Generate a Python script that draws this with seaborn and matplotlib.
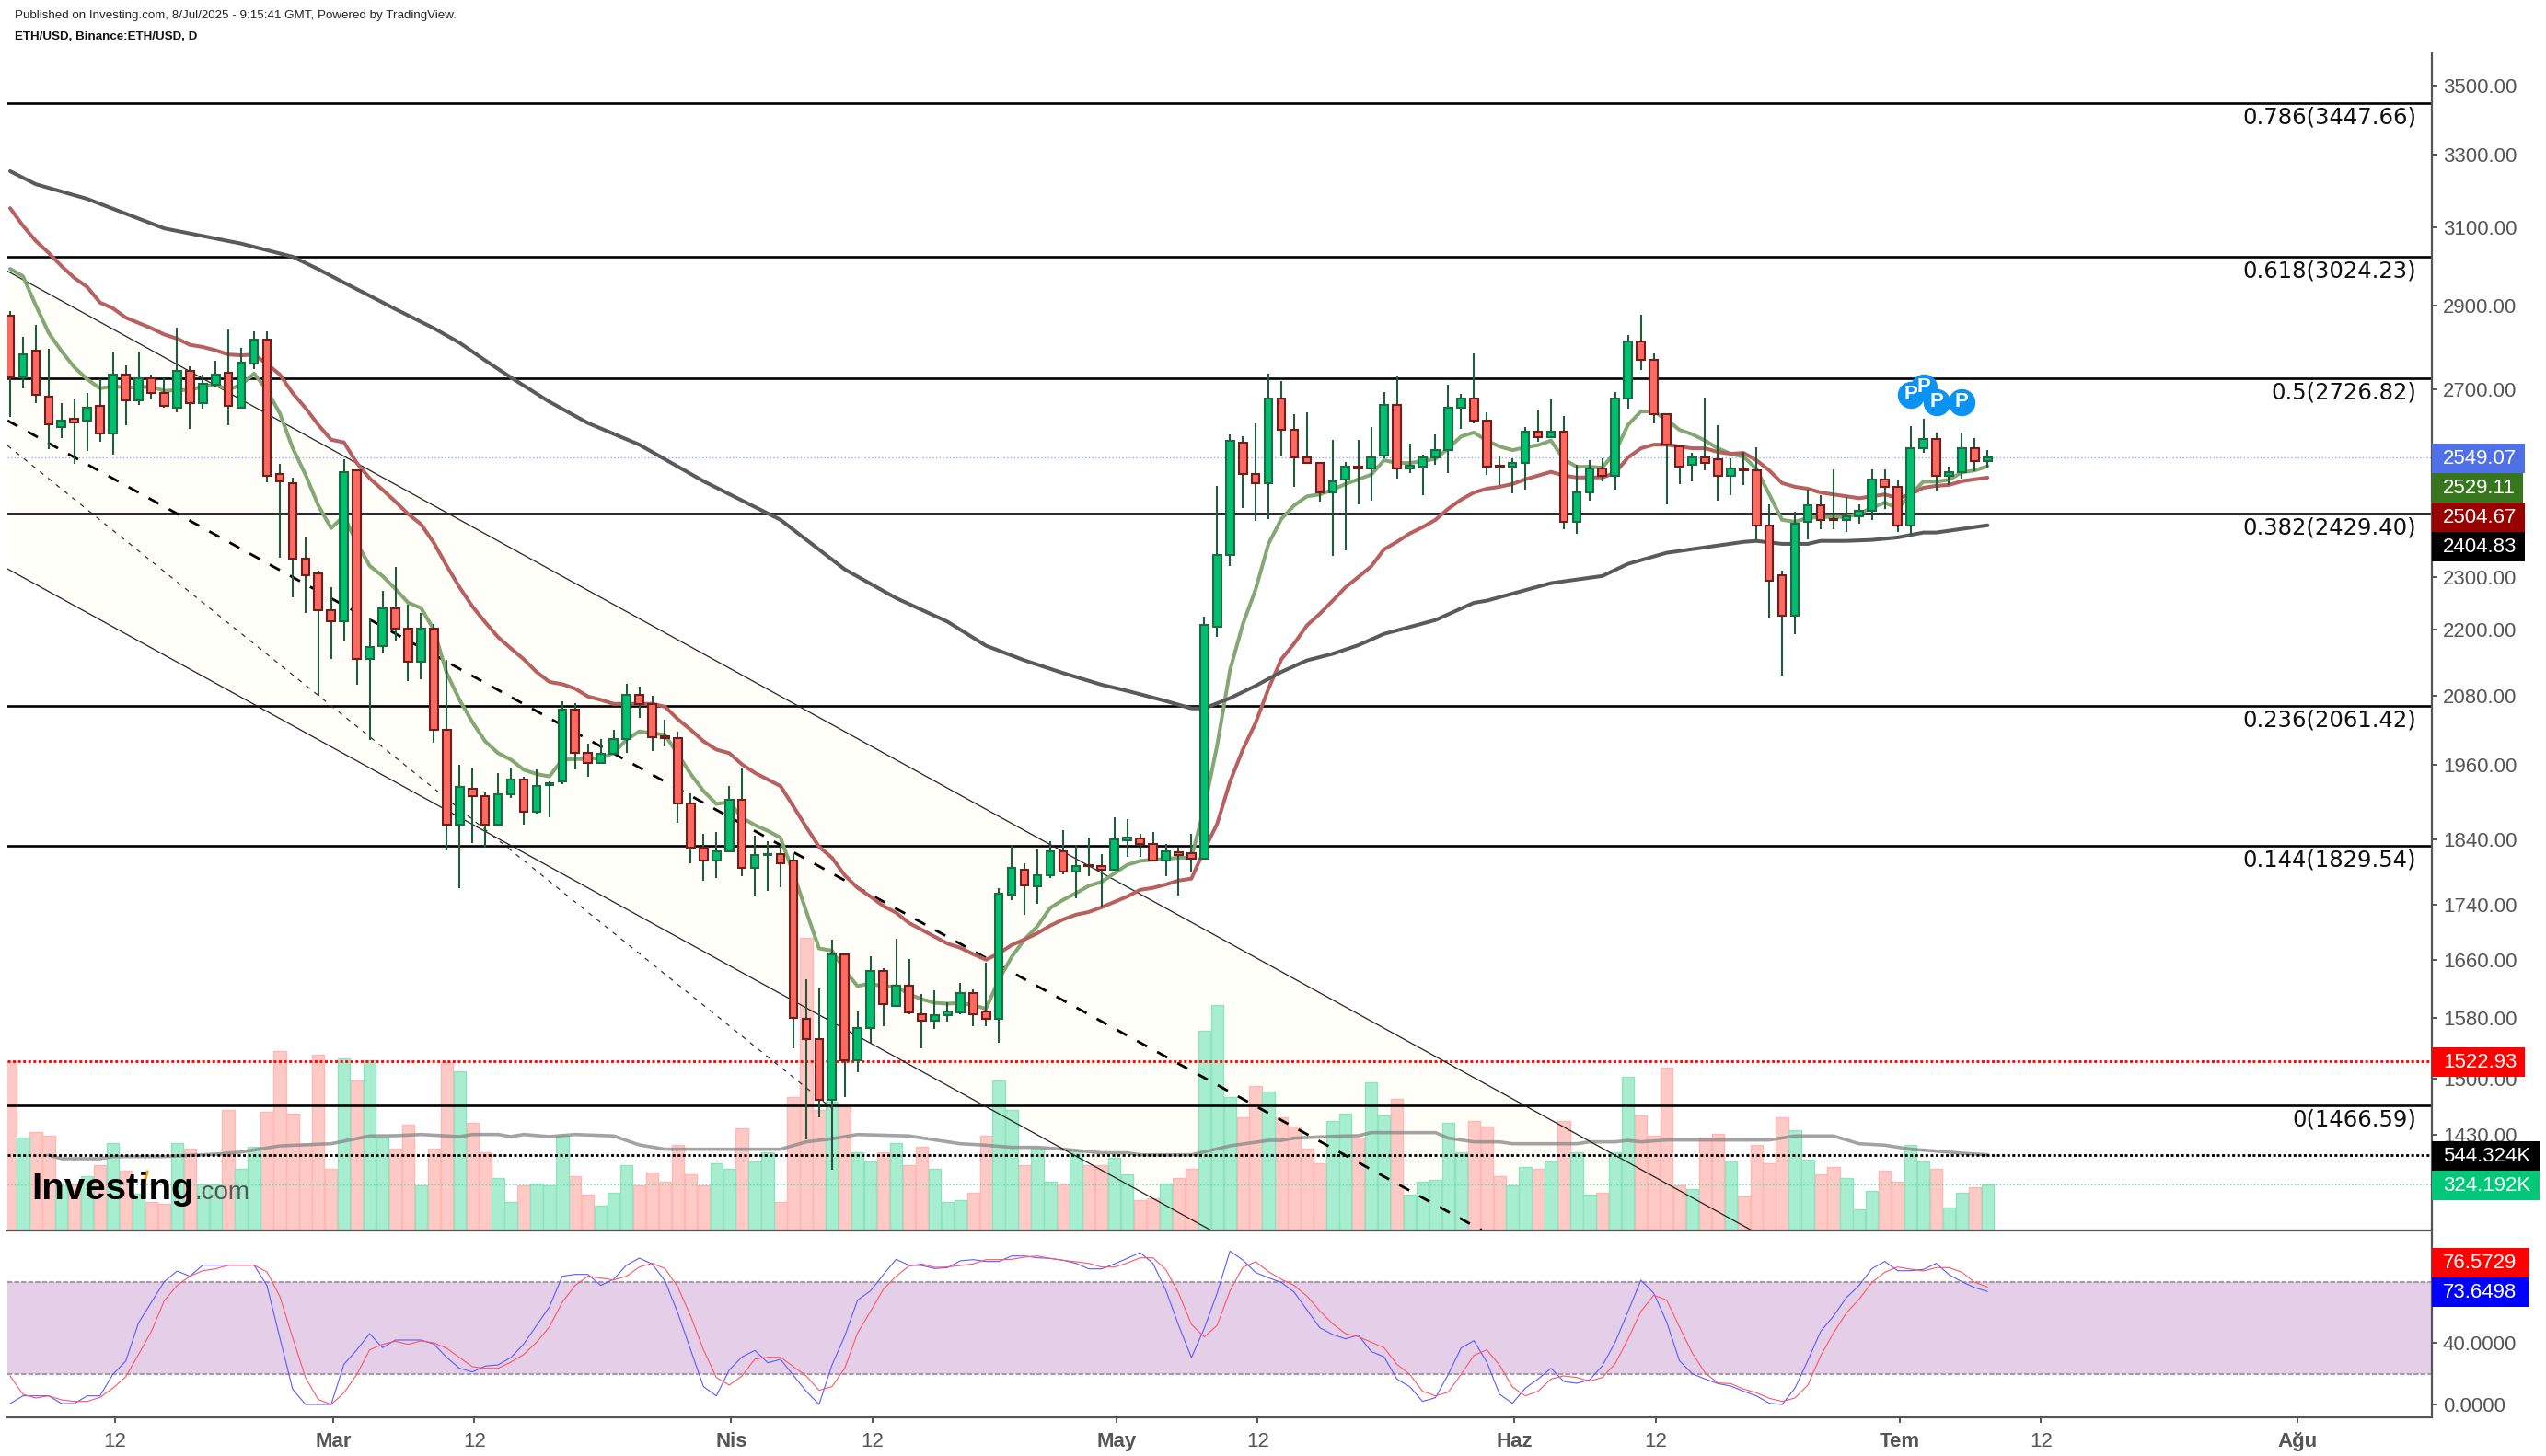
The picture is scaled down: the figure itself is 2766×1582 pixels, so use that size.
import matplotlib
matplotlib.use("Agg")
import matplotlib.pyplot as plt
import numpy as np
import pandas as pd
import seaborn as sns
from matplotlib.lines import Line2D
from matplotlib.patches import Rectangle

# candles, Feb 4 - Jul 8 2025, one row per ten bars
open_price = [
    2876, 2729, 2792, 2683, 2616, 2634, 2629, 2663, 2601, 2735,
    2675, 2726, 2692, 2658, 2744, 2670, 2712, 2740, 2658, 2760,
    2818, 2512, 2493, 2338, 2308, 2237, 2215, 2521, 2146, 2170,
    2241, 2202, 2140, 2202, 2019, 1863, 1921, 1908, 1863, 1911,
    1936, 1884, 1927, 1933, 2055, 1981, 1963, 1979, 2004, 2081,
    2065, 2008, 2005, 1897, 1827, 1806, 1821, 1903, 1795, 1815,
    1816, 1807, 1578, 1551, 1473, 1668, 1523, 1566, 1644, 1596,
    1624, 1585, 1576, 1583, 1587, 1614, 1588, 1578, 1755, 1792,
    1767, 1784, 1821, 1789, 1799, 1798, 1792, 1838, 1841, 1832,
    1806, 1819, 1818, 1809, 2205, 2344, 2581, 2513, 2492, 2680,
    2609, 2548, 2536, 2473, 2501, 2529, 2525, 2552, 2664, 2524,
    2529, 2549, 2565, 2659, 2680, 2630, 2530, 2528, 2537, 2605,
    2592, 2605, 2411, 2474, 2525, 2509, 2680, 2814, 2770, 2643,
    2573, 2532, 2549, 2545, 2509, 2525, 2521, 2405, 2305, 2226,
    2412, 2447, 2417, 2416, 2423, 2435, 2501, 2485, 2404, 2568,
    2589, 2508, 2516, 2569, 2540]
high_price = [
    2886, 2824, 2854, 2796, 2669, 2680, 2693, 2724, 2789, 2757,
    2789, 2735, 2726, 2847, 2754, 2735, 2767, 2842, 2798, 2838,
    2838, 2534, 2505, 2379, 2313, 2281, 2545, 2521, 2221, 2274,
    2321, 2248, 2231, 2210, 2144, 1961, 1956, 1915, 1946, 1956,
    1940, 1952, 1933, 2069, 2066, 1996, 2004, 2020, 2101, 2095,
    2079, 2038, 2016, 1913, 1848, 1851, 1925, 1955, 1846, 1837,
    1829, 1816, 1632, 1620, 1688, 1668, 1588, 1665, 1648, 1690,
    1661, 1612, 1617, 1601, 1628, 1619, 1656, 1765, 1830, 1802,
    1825, 1836, 1854, 1829, 1842, 1816, 1874, 1871, 1848, 1851,
    1833, 1826, 1848, 2225, 2487, 2598, 2594, 2624, 2737, 2720,
    2644, 2648, 2536, 2586, 2539, 2586, 2615, 2694, 2733, 2578,
    2554, 2598, 2711, 2690, 2784, 2648, 2551, 2546, 2615, 2652,
    2677, 2639, 2532, 2542, 2546, 2694, 2828, 2877, 2784, 2643,
    2573, 2558, 2681, 2620, 2546, 2561, 2570, 2448, 2314, 2432,
    2479, 2467, 2522, 2464, 2448, 2522, 2522, 2501, 2618, 2634,
    2603, 2529, 2603, 2590, 2565]
low_price = [
    2637, 2703, 2669, 2566, 2590, 2535, 2563, 2583, 2555, 2619,
    2665, 2678, 2658, 2649, 2611, 2657, 2706, 2619, 2658, 2747,
    2495, 2340, 2261, 2232, 2080, 2145, 2179, 2099, 2002, 2155,
    2180, 2106, 2109, 1997, 1823, 1765, 1834, 1826, 1863, 1905,
    1863, 1880, 1875, 1929, 1953, 1941, 1963, 1979, 1981, 2041,
    1984, 1991, 1866, 1803, 1775, 1780, 1821, 1783, 1752, 1760,
    1766, 1539, 1424, 1451, 1388, 1477, 1508, 1547, 1568, 1596,
    1585, 1539, 1565, 1575, 1585, 1568, 1568, 1546, 1746, 1725,
    1741, 1780, 1785, 1749, 1783, 1736, 1791, 1813, 1813, 1805,
    1783, 1754, 1788, 1809, 2186, 2322, 2440, 2414, 2418, 2551,
    2484, 2536, 2453, 2343, 2354, 2448, 2456, 2547, 2503, 2515,
    2468, 2532, 2515, 2611, 2624, 2511, 2488, 2472, 2480, 2582,
    2590, 2396, 2388, 2456, 2496, 2480, 2657, 2746, 2624, 2448,
    2491, 2496, 2520, 2456, 2468, 2488, 2377, 2222, 2115, 2191,
    2377, 2396, 2396, 2392, 2408, 2415, 2438, 2392, 2385, 2559,
    2475, 2488, 2503, 2519, 2527]
close_price = [
    2729, 2783, 2687, 2621, 2630, 2625, 2658, 2600, 2735, 2675,
    2726, 2692, 2662, 2744, 2670, 2713, 2735, 2663, 2762, 2818,
    2508, 2497, 2337, 2304, 2236, 2215, 2516, 2146, 2167, 2241,
    2202, 2140, 2202, 2019, 1863, 1924, 1908, 1863, 1911, 1936,
    1884, 1926, 1930, 2055, 1981, 1963, 1979, 2004, 2081, 2064,
    2007, 2005, 1897, 1827, 1806, 1821, 1903, 1795, 1815, 1816,
    1803, 1580, 1551, 1473, 1668, 1523, 1566, 1644, 1598, 1624,
    1587, 1576, 1583, 1588, 1614, 1585, 1578, 1756, 1795, 1769,
    1784, 1821, 1789, 1798, 1798, 1792, 1839, 1842, 1832, 1806,
    1821, 1815, 1809, 2209, 2344, 2585, 2513, 2492, 2680, 2609,
    2548, 2536, 2473, 2497, 2529, 2524, 2549, 2664, 2524, 2530,
    2549, 2565, 2659, 2680, 2630, 2529, 2528, 2536, 2605, 2592,
    2605, 2411, 2474, 2525, 2509, 2680, 2814, 2770, 2643, 2576,
    2528, 2549, 2536, 2509, 2525, 2520, 2404, 2294, 2226, 2409,
    2447, 2416, 2415, 2423, 2435, 2501, 2484, 2404, 2569, 2589,
    2508, 2517, 2569, 2540, 2549.07]

ema_fast = [
    2993, 2974, 2901, 2834, 2790, 2752, 2724, 2703, 2707, 2705,
    2705, 2707, 2697, 2699, 2699, 2707, 2712, 2699, 2712, 2737,
    2699, 2646, 2569, 2511, 2446, 2399, 2424, 2369, 2323, 2303,
    2278, 2251, 2241, 2200, 2120, 2072, 2033, 2000, 1980, 1969,
    1952, 1945, 1941, 1969, 1970, 1970, 1972, 1980, 2003, 2017,
    2014, 2011, 1978, 1945, 1917, 1896, 1899, 1874, 1862, 1853,
    1842, 1787, 1730, 1676, 1673, 1645, 1623, 1627, 1622, 1623,
    1612, 1605, 1600, 1599, 1600, 1597, 1592, 1632, 1664, 1689,
    1708, 1735, 1747, 1757, 1768, 1774, 1787, 1800, 1806, 1808,
    1809, 1811, 1811, 1890, 1993, 2125, 2210, 2277, 2367, 2418,
    2446, 2465, 2469, 2479, 2491, 2501, 2511, 2542, 2536, 2536,
    2540, 2545, 2568, 2594, 2603, 2585, 2572, 2564, 2570, 2575,
    2585, 2544, 2528, 2528, 2526, 2560, 2620, 2650, 2650, 2632,
    2609, 2599, 2585, 2568, 2556, 2550, 2523, 2469, 2416, 2412,
    2420, 2422, 2422, 2422, 2429, 2441, 2452, 2439, 2469, 2496,
    2496, 2500, 2516, 2520, 2529.11]
ema_mid = [
    3152, 3105, 3065, 3034, 3000, 2970, 2947, 2908, 2894, 2871,
    2858, 2845, 2830, 2820, 2805, 2800, 2792, 2782, 2780, 2782,
    2760, 2735, 2692, 2658, 2620, 2587, 2581, 2536, 2503, 2479,
    2454, 2428, 2407, 2369, 2323, 2281, 2244, 2214, 2186, 2165,
    2145, 2122, 2104, 2100, 2092, 2078, 2072, 2065, 2065, 2065,
    2065, 2060, 2038, 2020, 2000, 1986, 1980, 1961, 1947, 1936,
    1925, 1892, 1859, 1828, 1811, 1784, 1765, 1752, 1738, 1728,
    1713, 1703, 1693, 1683, 1677, 1668, 1660, 1669, 1681, 1689,
    1698, 1709, 1718, 1725, 1729, 1736, 1744, 1752, 1762, 1765,
    1770, 1776, 1779, 1823, 1864, 1932, 1986, 2032, 2092, 2145,
    2174, 2208, 2230, 2255, 2281, 2301, 2322, 2356, 2371, 2388,
    2401, 2416, 2439, 2458, 2473, 2481, 2485, 2491, 2501, 2509,
    2517, 2509, 2505, 2505, 2505, 2515, 2548, 2568, 2576, 2576,
    2572, 2568, 2568, 2560, 2556, 2558, 2542, 2520, 2493, 2485,
    2481, 2473, 2469, 2465, 2461, 2465, 2469, 2461, 2469, 2483,
    2487, 2489, 2497, 2501, 2504.67]

# slow average, read at its bends only
ema_slow_idx = [0, 2, 6, 12, 18, 22, 24, 26, 28, 30, 33, 35, 37, 39, 42, 45, 49, 54, 60, 65,
                69, 73, 76, 79, 82, 85, 87, 90, 92, 93, 95, 97, 99, 101, 103, 105, 107, 111,
                114, 115, 120, 124, 126, 129, 135, 136, 138, 140, 141, 143, 145, 147, 149,
                150, 154]
ema_slow = [3253, 3217, 3177, 3098, 3058, 3024, 2992, 2958, 2925, 2892, 2845, 2810, 2768, 2728,
            2672, 2624, 2576, 2497, 2416, 2316, 2260, 2215, 2170, 2143, 2120, 2099, 2088, 2070,
            2057, 2057, 2075, 2097, 2122, 2143, 2155, 2171, 2192, 2218, 2251, 2255, 2289, 2303,
            2327, 2349, 2371, 2373, 2367, 2367, 2373, 2373, 2375, 2380, 2390, 2390, 2404.83]

volume_k = [
    1242, 673, 714, 687, 313, 324, 382, 467, 632, 425,
    256, 191, 178, 632, 590, 324, 324, 880, 439, 604,
    866, 1320, 852, 627, 1292, 439, 1265, 1100, 1251, 673,
    590, 769, 315, 590, 1237, 1169, 783, 563, 370, 191,
    315, 329, 315, 687, 384, 246, 164, 260, 467, 315,
    412, 343, 618, 398, 315, 480, 439, 742, 494, 563,
    191, 976, 2169, 880, 944, 907, 563, 494, 563, 632,
    467, 604, 439, 191, 205, 260, 687, 1100, 880, 467,
    590, 343, 329, 577, 467, 467, 522, 398, 205, 219,
    329, 370, 439, 1471, 1664, 976, 824, 1058, 1017, 824,
    756, 590, 480, 797, 852, 673, 1086, 838, 962, 246,
    343, 356, 783, 563, 797, 756, 384, 315, 453, 439,
    494, 797, 563, 246, 260, 563, 1127, 838, 687, 1196,
    315, 288, 673, 701, 494, 233, 618, 480, 824, 728,
    508, 398, 453, 370, 136, 274, 425, 343, 618, 494,
    439, 150, 260, 301, 324.192]
volume_ma_idx = [3, 4, 7, 8, 12, 16, 18, 21, 25, 28, 30, 32, 35, 36, 38, 39, 40, 42, 44, 47, 49,
                 51, 60, 62, 64, 66, 70, 74, 76, 78, 80, 82, 85, 87, 88, 92, 95, 98, 99, 100,
                 103, 105, 106, 111, 112, 114, 116, 117, 122, 123, 125, 126, 127, 129, 137,
                 139, 142, 144, 146, 148, 150, 152, 154]
volume_ma = [542, 515, 515, 531, 531, 549, 565, 611, 627, 685, 687, 696, 680, 696, 696, 680, 696,
             680, 696, 685, 618, 586, 586, 641, 664, 696, 685, 627, 616, 600, 600, 586, 559, 559,
             544, 544, 611, 652, 652, 669, 682, 687, 710, 710, 669, 641, 641, 627, 627, 641, 641,
             652, 641, 655, 655, 685, 685, 627, 616, 586, 572, 556, 544.324]

stoch_k = [
    0.6, 5.6, 5.6, 5.6, 0.6, 0.6, 5.6, 5.6, 19.6, 28.2,
    53.2, 66.6, 80, 87, 83.6, 90.8, 90.8, 90.8, 90.8, 90.8,
    77.6, 43.6, 10, 0, 0, 0, 26.2, 35.6, 46.2, 37,
    42, 42, 42, 39.4, 30.6, 23.6, 21.2, 25, 25.8, 30.6,
    39.4, 51.6, 63.6, 83.6, 84.8, 84.8, 77.6, 81.6, 90.8, 95.4,
    91.6, 80.6, 59.6, 35.6, 11.6, 5.6, 22.4, 31, 35.2, 27.2,
    29.4, 19, 8.6, 0, 25.6, 44.6, 68, 74, 84.6, 94.6,
    90.8, 90.6, 88.6, 89.2, 93.6, 94.4, 93.2, 93.2, 96.8, 96.8,
    95.6, 95.2, 94, 92, 88.4, 88.4, 91.6, 95.2, 99, 92,
    74.6, 51.6, 30.6, 49.6, 72.6, 100, 94.2, 86, 82.6, 79.6,
    73.2, 61.6, 50, 45.6, 42.8, 45.2, 34.6, 31, 16.6, 11.6,
    2, 4.4, 19.6, 36.8, 41.6, 27.6, 6.6, 0.8, 10.6, 16.6,
    23.6, 15, 13.8, 16, 25.2, 40.6, 60.6, 81, 72.6, 54,
    28.6, 20, 16.6, 13.6, 12, 8.6, 5.6, 0.8, 0, 10.6,
    28.6, 47.6, 57.6, 69.6, 77.6, 88.6, 93.2, 87.2, 87.2, 88,
    92, 84.6, 80, 76.2, 73.6498]
stoch_d = [
    18.6, 6.6, 4.2, 5.6, 3, 2, 2, 4.6, 10.6, 18,
    32.6, 47.6, 67.6, 77.6, 83.6, 87.2, 88.4, 90.8, 90.8, 90.8,
    86.4, 70.6, 43.6, 17.6, 3.2, 0, 7.6, 19.6, 35.6, 39.2,
    41.2, 39.2, 41.4, 40.2, 36.6, 30.6, 24.6, 23.6, 23.6, 27.6,
    32.6, 40.6, 50.6, 66.6, 77.6, 83.6, 82.4, 81.2, 83.6, 89.6,
    92, 88.6, 76.6, 57.6, 35.6, 17.6, 12.6, 18.6, 29.6, 30.8,
    30.8, 24.6, 18.6, 9.2, 11.6, 23.6, 46.6, 60.6, 75, 83.6,
    90.2, 91.6, 89.4, 89.6, 90.6, 91.6, 94.4, 94.4, 94.6, 96,
    96.8, 95.2, 94, 93, 92, 89.6, 89.6, 92.2, 95.6, 95.6,
    88, 72.6, 52.2, 44, 51.6, 74, 89.4, 93, 86.6, 81.6,
    77.6, 70.6, 61, 52.6, 46.2, 44.2, 40.6, 37, 26.2, 19.6,
    8.6, 5.6, 8, 19.6, 32, 35.6, 25.6, 11.4, 5.6, 8.6,
    16.6, 18.6, 17.6, 15.2, 17.6, 26.6, 42.6, 60.6, 71.2, 68.2,
    50.6, 33.6, 20.6, 14, 13.6, 10, 7.6, 4, 2, 4.2,
    12.6, 31.6, 46.6, 59.6, 68.6, 79.6, 86.2, 89.6, 88.2, 87,
    89.2, 89.2, 86.2, 79.6, 76.5729]

fib_levels = [3447.66, 3024.23, 2726.82, 2429.40, 2061.42, 1829.54, 1466.59]
fib_names = ["0.786", "0.618", "0.5", "0.382", "0.236", "0.144", "0"]
price_ticks = [3500, 3300, 3100, 2900, 2700, 2300, 2200, 2080, 1960, 1840, 1740, 1660, 1580, 1500, 1430]
stoch_ticks = [0, 40]
date_ticks = [8, 25, 36, 56, 67, 86, 97, 117, 128, 147, 158, 178]
date_names = ["12", "Mar", "12", "Nis", "12", "May", "12", "Haz", "12", "Tem", "12", "Ağu"]
months = ["Mar", "Nis", "May", "Haz", "Tem", "Ağu"]
pivot_idx = [148, 149, 150, 152]
pivot_price = [2688, 2705, 2672, 2672]

# channel drawn on the chart, (bar, price) at both ends
channel_top = ([-0.2, 135.6], [2987, 1318])
channel_mid = ([-0.2, 114.6], [2629.5, 1318])
channel_low = ([-0.2, 93.5], [2317, 1318])
channel_thin = ([-0.2, 64.1], [2574, 1461])

W, H = 2766, 1582
LEFT, RIGHT = 8, 2642
TOP, PANE_BOTTOM, AXIS_BOTTOM = 58, 1337, 1540
GREY = "#555555"
LABEL_SIZE = 16

sns.set_style("white")
plt.rcParams["font.family"] = ["Liberation Sans", "DejaVu Sans"]

fig = plt.figure(figsize=(W / 100, H / 100), dpi=100)


def pane(top, bottom):
    return [LEFT / W, 1 - bottom / H, (RIGHT - LEFT) / W, (bottom - top) / H]


bars = np.arange(len(close_price))
opens, highs, lows, closes = map(np.array, (open_price, high_price, low_price, close_price))
up = closes >= opens

ax_vol = fig.add_axes(pane(TOP, PANE_BOTTOM))
ax_price = ax_vol.twinx()
ax_stoch = fig.add_axes(pane(PANE_BOTTOM, AXIS_BOTTOM))

# volume sits behind the candles on its own scale
vol_df = pd.DataFrame({"bar": bars, "vol": volume_k, "side": np.where(up, "up", "down")})
sns.barplot(data=vol_df, x="bar", y="vol", hue="side", palette={"up": "#a7edcf", "down": "#ffc9c5"},
            native_scale=True, dodge=False, width=0.96, saturation=1, legend=False, ax=ax_vol)
vol_floor = -22
for bar in ax_vol.patches:
    r, g, b, a = bar.get_facecolor()
    bar.set_edgecolor("#8fe3c0" if g > r else "#ffb8b3")
    bar.set_linewidth(1)
    bar.set_height(bar.get_height() - vol_floor)
    bar.set_y(vol_floor)
sns.lineplot(x=volume_ma_idx, y=volume_ma, color="#8c8c8c", linewidth=2.6, alpha=0.8, ax=ax_vol, zorder=3)
ax_vol.axhline(544.324, color="black", linestyle=(0, (1.1, 0.9)), linewidth=2, zorder=4)
ax_vol.axhline(324.192, color="#5fd8a8", linestyle=":", linewidth=1, zorder=4)
ax_vol.fill(channel_top[0] + channel_low[0][::-1], channel_top[1] + channel_low[1][::-1],
            color="#fffef8", transform=ax_price.transData, zorder=0, linewidth=0)

ax_price.set_yscale("log")
for level, name in zip(fib_levels, fib_names):
    ax_price.axhline(level, color="black", linewidth=1.9, zorder=1)
    ax_price.annotate(f"{name}({level:.2f})", xy=(187.4, level), xytext=(0, -16), textcoords="offset pixels",
                      ha="right", va="center", fontsize=17.5, family="DejaVu Sans", color="#111111")
ax_price.axhline(1522.93, color="#ff0000", linestyle=(0, (1.1, 0.9)), linewidth=2, zorder=1)
ax_price.axhline(2549.07, color="#9aaaf0", linestyle=":", linewidth=1, zorder=1)
for line in (channel_top, channel_low):
    ax_price.plot(*line, color="#222222", linewidth=0.9, zorder=2)
ax_price.plot(*channel_mid, color="black", linewidth=2, linestyle=(0, (4.5, 4.5)), zorder=2)
ax_price.plot(*channel_thin, color="#333333", linewidth=0.9, linestyle=(0, (4, 5)), zorder=2)

sns.lineplot(x=bars, y=ema_fast, color="#83a873", linewidth=2.9, ax=ax_price, zorder=3)
sns.lineplot(x=bars, y=ema_mid, color="#b85f5f", linewidth=2.9, ax=ax_price, zorder=3)
sns.lineplot(x=ema_slow_idx, y=ema_slow, color="#5a5a5a", linewidth=2.9, ax=ax_price, zorder=3)

ax_price.vlines(bars, lows, highs, color="#1f5b3c", linewidth=1.5, zorder=4)
ax_price.bar(bars, np.abs(closes - opens), bottom=np.minimum(opens, closes), width=0.62,
             color=np.where(up, "#00c070", "#ff6a60"), edgecolor=np.where(up, "#1c6b42", "#6f1d1d"),
             linewidth=1.5, zorder=5)

ax_price.scatter(pivot_idx, pivot_price, s=408, color="#0a93f5", edgecolor="#0a93f5", zorder=6)
for x, y in zip(pivot_idx, pivot_price):
    ax_price.text(x, y, "P", color="white", fontweight="bold", fontsize=16, ha="center", va="center", zorder=6)

ax_vol.set_ylim(vol_floor, 8780)
ax_price.set_ylim(1317.6, 3596.9)
ax_price.set_yticks(price_ticks)
ax_price.set_yticklabels([f"{t:.2f}" for t in price_ticks])
ax_price.minorticks_off()
ax_price.tick_params(axis="y", which="major", right=True, length=4.5, width=1.4, color=GREY,
                     labelcolor=GREY, labelsize=LABEL_SIZE, pad=4)

# stochastic pane
ax_stoch.axhspan(20, 80, color="#e5cfe8", linewidth=0, zorder=0)
for level in (20, 80):
    ax_stoch.axhline(level, color="#a79aa8", linewidth=1.6, linestyle=(0, (2.4, 1)), zorder=1)
sns.lineplot(x=bars, y=stoch_k, color="#5a5aff", linewidth=0.8, ax=ax_stoch, zorder=2)
sns.lineplot(x=bars, y=stoch_d, color="#ff5565", linewidth=0.8, ax=ax_stoch, zorder=3)
ax_stoch.set_ylim(-8.4, 113.4)
ax_stoch.yaxis.tick_right()
ax_stoch.set_yticks(stoch_ticks)
ax_stoch.set_yticklabels([f"{t:.4f}" for t in stoch_ticks])
ax_stoch.tick_params(axis="y", right=True, length=4.5, width=1.4, color=GREY, labelcolor=GREY,
                     labelsize=LABEL_SIZE, pad=4)
# the date ticks sit a hair right of the bar centres on the original
ax_stoch.set_xticks(np.array(date_ticks) + 0.15)
ax_stoch.set_xticklabels(date_names)
ax_stoch.tick_params(axis="x", bottom=True, length=4.5, width=1.4, color=GREY, labelcolor=GREY,
                     labelsize=LABEL_SIZE, pad=7)
for label in ax_stoch.get_xticklabels():
    if label.get_text() in months:
        label.set_fontweight("bold")

x_limits = ((LEFT - 11) / 13.95, (RIGHT - 11) / 13.95)
for ax in (ax_vol, ax_price, ax_stoch):
    ax.set_xlim(*x_limits)
    ax.set_xlabel("")
    ax.set_ylabel("")
    for side in ax.spines:
        ax.spines[side].set_visible(False)
ax_vol.tick_params(left=False, bottom=False, labelleft=False, labelbottom=False)
ax_price.tick_params(axis="x", bottom=False, labelbottom=False)
ax_price.spines["right"].set_visible(True)
for side in ("top", "bottom", "right"):
    ax_stoch.spines[side].set_visible(True)
for spine in (ax_price.spines["right"], ax_stoch.spines["top"], ax_stoch.spines["bottom"], ax_stoch.spines["right"]):
    spine.set_color(GREY)
    spine.set_linewidth(1.6)

# value tags on the price scale, (text, top pixel, width, colour)
tags = [("2549.07", 482, 101, "#5070e8"), ("2529.11", 514, 99, "#38761d"),
        ("2504.67", 546, 101, "#990000"), ("2404.83", 578, 101, "#000000"),
        ("1522.93", 1138, 101, "#ff0000"), ("544.324K", 1240, 117, "#000000"),
        ("324.192K", 1272, 117, "#00c878"), ("76.5729", 1356, 106, "#ff0000"),
        ("73.6498", 1388, 106, "#0000ff")]
for text, top, width, colour in tags:
    fig.add_artist(Rectangle((RIGHT / W, 1 - (top + 32) / H), width / W, 32 / H, transform=fig.transFigure,
                             facecolor=colour, linewidth=0, zorder=10))
    fig.text(2654 / W, 1 - (top + 16.5) / H, text, color="white", fontsize=LABEL_SIZE, va="center", zorder=11)

fig.text(16 / W, 1 - 17 / H, "Published on Investing.com, 8/Jul/2025 - 9:15:41 GMT, Powered by TradingView.",
         fontsize=9.6, color="#222222", va="center")
fig.text(16 / W, 1 - 40 / H, "ETH/USD, Binance:ETH/USD, D", fontsize=9.6, fontweight="bold", color="#111111", va="center")

# logo
fig.text(34 / W, 1 - 1292 / H, "Investing", fontsize=29, fontweight="bold", color="black", va="center", zorder=9)
fig.text(212 / W, 1 - 1296 / H, ".com", fontsize=20, color="#555555", va="center", zorder=9)
fig.add_artist(Line2D([157 / W, 160 / W], [1 - 1284 / H, 1 - 1273 / H], color="#f39c12", linewidth=2.4, zorder=9))

fig.savefig("out.png", dpi=100)
